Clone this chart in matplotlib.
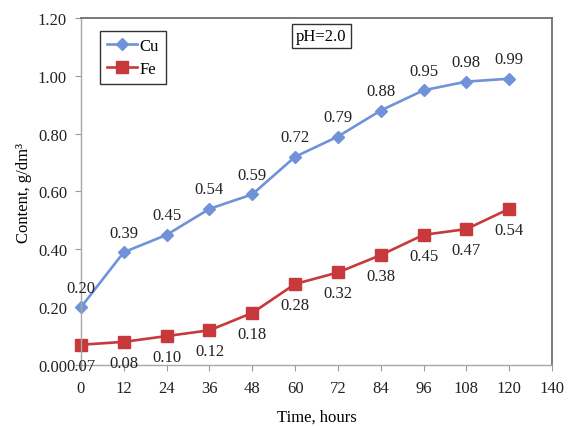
import numpy as np
import matplotlib.pyplot as plt

# data
time_labels = ["0", "12", "24", "36", "48", "60", "72", "84", "96", "108", "120", "140"]
cu_values = [0.20, 0.39, 0.45, 0.54, 0.59, 0.72, 0.79, 0.88, 0.95, 0.98, 0.99]
fe_values = [0.07, 0.08, 0.10, 0.12, 0.18, 0.28, 0.32, 0.38, 0.45, 0.47, 0.54]
y_ticks = [0.0, 0.2, 0.4, 0.6, 0.8, 1.0, 1.2]

plt.rcParams['font.family'] = ['Liberation Serif', 'DejaVu Serif']
plt.rcParams['font.size'] = 12

fig = plt.figure(figsize=(5.68, 4.27), dpi=100)
ax = fig.add_axes([0.1426, 0.1429, 0.8292, 0.8126])

# category axis: points sit at evenly spaced positions
x = np.arange(len(cu_values))
cu_color = '#7092d8'
fe_color = '#c8393c'

ax.plot(x, cu_values, color=cu_color, lw=1.9, marker='D', ms=6, label='Cu')
ax.plot(x, fe_values, color=fe_color, lw=1.9, marker='s', ms=8, label='Fe')

for xi, v in zip(x, cu_values):
    ax.annotate(f"{v:.2f}", (xi, v), xytext=(0, 14), textcoords='offset points',
                ha='center', va='center', color='#222222')
for xi, v in zip(x, fe_values):
    ax.annotate(f"{v:.2f}", (xi, v), xytext=(0, -15), textcoords='offset points',
                ha='center', va='center', color='#222222')

ax.set_xlim(0, len(time_labels) - 1)
ax.set_ylim(0, 1.2)
ax.set_xticks(np.arange(len(time_labels)))
ax.set_xticklabels(time_labels)
ax.set_yticks(y_ticks)
ax.set_yticklabels([f"{t:.2f}" for t in y_ticks])

ax.tick_params(axis='both', direction='out', length=4, color='#9a9a9a', labelcolor='#222222')
ax.tick_params(axis='x', pad=7)
ax.tick_params(axis='y', pad=6)
for side in ['left', 'bottom']:
    ax.spines[side].set_color('#a8a8a8')
    ax.spines[side].set_linewidth(1.0)
for side in ['top', 'right']:
    ax.spines[side].set_color('#707070')
    ax.spines[side].set_linewidth(1.3)
for line in ax.lines:
    line.set_clip_on(False)

ax.set_xlabel("Time, hours", labelpad=9)
ax.set_ylabel("Content, g/dm³", labelpad=4)

leg = ax.legend(loc='upper left', bbox_to_anchor=(0.04, 0.963), borderaxespad=0,
                fancybox=False, edgecolor='#333333', framealpha=1,
                handlelength=1.8, handletextpad=0.2, borderpad=0.4, labelspacing=0.45)
leg.get_frame().set_linewidth(1.0)

ax.text(0.51, 0.948, "pH=2.0", transform=ax.transAxes, ha='center', va='center',
        bbox=dict(boxstyle='square,pad=0.25', fc='white', ec='#333333', lw=1.0))

fig.savefig("out.png", dpi=100)
